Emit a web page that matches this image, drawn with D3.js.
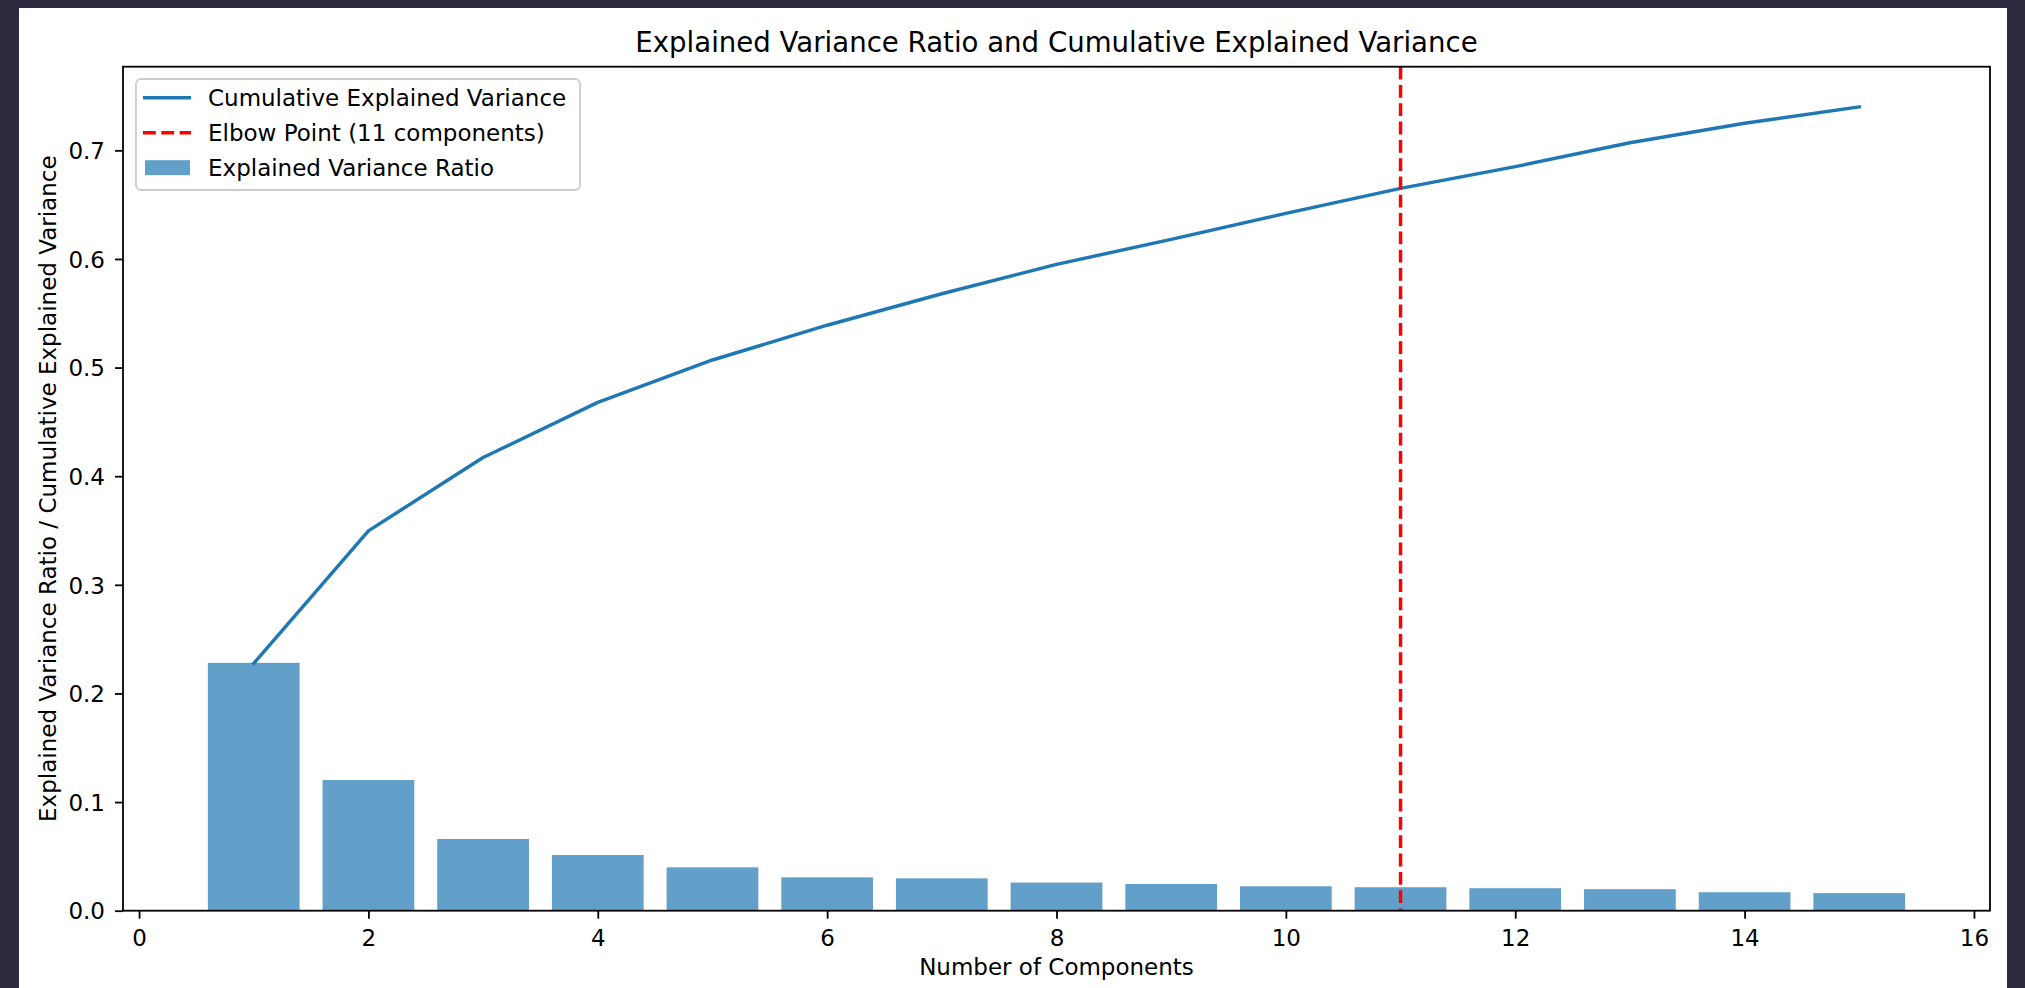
<!DOCTYPE html>
<html>
<head>
<meta charset="utf-8">
<script src="https://cdn.jsdelivr.net/npm/d3@7"></script>
<style>
  html, body { margin: 0; padding: 0; background: #2b2a3e; }
  svg { display: block; }
  text { font-family: "DejaVu Sans", sans-serif; fill: #000; }
</style>
</head>
<body>
<svg id="chart" width="2025" height="988"></svg>
<script>
// Component numbers (1..15)
const components = [1, 2, 3, 4, 5, 6, 7, 8, 9, 10, 11, 12, 13, 14, 15];
// Explained variance ratio per component
const varianceRatio = [0.2282, 0.1203, 0.0660, 0.0513, 0.0399, 0.0307, 0.0298, 0.0259,
                       0.0246, 0.0225, 0.0216, 0.0207, 0.0198, 0.0170, 0.0162];
// Cumulative explained variance
const cumulativeVariance = [0.2277, 0.3497, 0.4172, 0.4680, 0.5070, 0.5390, 0.5680, 0.5950,
                            0.6180, 0.6420, 0.6650, 0.6850, 0.7070, 0.7250, 0.7400];
const elbowComponent = 11;
const xTicks = [0, 2, 4, 6, 8, 10, 12, 14, 16];
const yTicks = [0.0, 0.1, 0.2, 0.3, 0.4, 0.5, 0.6, 0.7];

const titleText = "Explained Variance Ratio and Cumulative Explained Variance";
const xLabelText = "Number of Components";
const yLabelText = "Explained Variance Ratio / Cumulative Explained Variance";
const legendLabels = ["Cumulative Explained Variance", "Elbow Point (11 components)", "Explained Variance Ratio"];

const blue = "#1f77b4";
const barFill = "#1f77b4";
const red = "#ff0000";
const fontSize = 23;

const svg = d3.select("#chart");

// white figure canvas
svg.append("rect")
  .attr("x", 19).attr("y", 8).attr("width", 1988).attr("height", 980)
  .attr("fill", "#ffffff");

const plot = { left: 123, right: 1990, top: 66.7, bottom: 910.7 };
const barWidth = 0.8;

// x limits: bar extent plus 5% margin each side
const xMinData = d3.min(components) - barWidth / 2;
const xMaxData = d3.max(components) + barWidth / 2;
const xPad = (xMaxData - xMinData) * 0.05;
const x = d3.scaleLinear()
  .domain([xMinData - xPad, xMaxData + xPad])
  .range([plot.left, plot.right]);

const yMax = d3.max(cumulativeVariance) * 1.05;
const y = d3.scaleLinear()
  .domain([0, yMax])
  .range([plot.bottom, plot.top]);

// bars
svg.append("g").selectAll("rect")
  .data(components)
  .join("rect")
  .attr("x", (d) => x(d - barWidth / 2))
  .attr("width", (d) => x(d + barWidth / 2) - x(d - barWidth / 2))
  .attr("y", (d, i) => y(varianceRatio[i]))
  .attr("height", (d, i) => y(0) - y(varianceRatio[i]))
  .attr("fill", barFill)
  .attr("fill-opacity", 0.7);

// cumulative line
const line = d3.line()
  .x((d) => x(d[0]))
  .y((d) => y(d[1]));
svg.append("path")
  .datum(components.map((c, i) => [c, cumulativeVariance[i]]))
  .attr("d", line)
  .attr("fill", "none")
  .attr("stroke", blue)
  .attr("stroke-width", 3.45)
  .attr("stroke-linejoin", "round")
  .attr("stroke-linecap", "square");

// elbow marker
svg.append("line")
  .attr("x1", x(elbowComponent)).attr("x2", x(elbowComponent))
  .attr("y1", plot.top).attr("y2", plot.bottom)
  .attr("stroke", red)
  .attr("stroke-width", 3.45)
  .attr("stroke-dasharray", "12.8 5.5");

// axes
const xAxis = d3.axisBottom(x).tickValues(xTicks).tickFormat(d3.format("d"))
  .tickSize(8).tickPadding(11);
const gx = svg.append("g").attr("transform", `translate(0,${plot.bottom})`).call(xAxis);
const yAxis = d3.axisLeft(y).tickValues(yTicks).tickFormat(d3.format(".1f"))
  .tickSize(8).tickPadding(10);
const gy = svg.append("g").attr("transform", `translate(${plot.left},0)`).call(yAxis);

[gx, gy].forEach((g) => {
  g.select(".domain").remove();
  g.selectAll(".tick line").attr("stroke", "#000").attr("stroke-width", 1.8);
  g.selectAll(".tick text")
    .attr("font-family", "DejaVu Sans")
    .attr("font-size", fontSize)
    .attr("fill", "#000");
});
gy.selectAll(".tick text").attr("dy", "0.36em");

// axes frame
svg.append("rect")
  .attr("x", plot.left).attr("y", plot.top)
  .attr("width", plot.right - plot.left).attr("height", plot.bottom - plot.top)
  .attr("fill", "none").attr("stroke", "#000").attr("stroke-width", 1.8);

// title and axis labels
const cx = (plot.left + plot.right) / 2;
svg.append("text")
  .attr("x", cx).attr("y", 52)
  .attr("text-anchor", "middle")
  .attr("font-size", 27.6)
  .text(titleText);

svg.append("text")
  .attr("x", cx).attr("y", 975)
  .attr("text-anchor", "middle")
  .attr("font-size", fontSize)
  .text(xLabelText);

svg.append("text")
  .attr("transform", `translate(56,${(plot.top + plot.bottom) / 2}) rotate(-90)`)
  .attr("text-anchor", "middle")
  .attr("font-size", fontSize)
  .text(yLabelText);

// legend
const legend = svg.append("g");
legend.append("rect")
  .attr("x", 136).attr("y", 79).attr("width", 444).attr("height", 111)
  .attr("rx", 5).attr("ry", 5)
  .attr("fill", "#ffffff").attr("fill-opacity", 0.8)
  .attr("stroke", "#cccccc").attr("stroke-width", 1.8);

const rowY = [97.7, 132.7, 167.7];
const handleX0 = 143, handleX1 = 191, textX = 208;

legend.append("line")
  .attr("x1", handleX0).attr("x2", handleX1)
  .attr("y1", rowY[0]).attr("y2", rowY[0])
  .attr("stroke", blue).attr("stroke-width", 3.45);
legend.append("line")
  .attr("x1", handleX0).attr("x2", handleX1)
  .attr("y1", rowY[1]).attr("y2", rowY[1])
  .attr("stroke", red).attr("stroke-width", 3.45)
  .attr("stroke-dasharray", "12.8 5.5");
legend.append("rect")
  .attr("x", 145).attr("y", rowY[2] - 7.5).attr("width", 45).attr("height", 15)
  .attr("fill", barFill).attr("fill-opacity", 0.7);

legend.selectAll("text.lbl")
  .data(legendLabels)
  .join("text")
  .attr("class", "lbl")
  .attr("x", textX)
  .attr("y", (d, i) => rowY[i] + 8.3)
  .attr("font-size", fontSize)
  .text((d) => d);
</script>
</body>
</html>
